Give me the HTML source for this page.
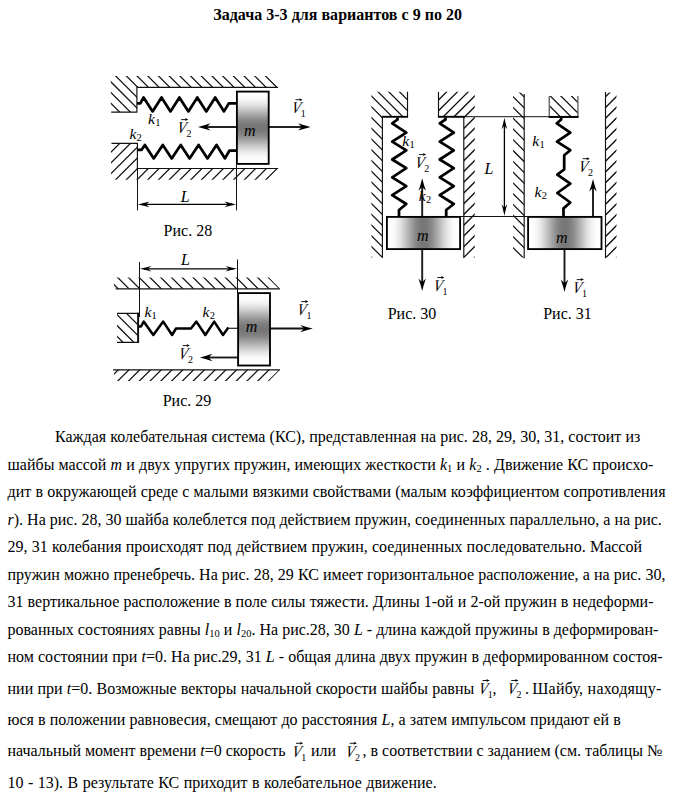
<!DOCTYPE html>
<html lang="ru"><head><meta charset="utf-8"><title>Задача 3-3</title>
<style>
html,body{margin:0;padding:0;background:#fff;}
body{width:676px;height:800px;position:relative;overflow:hidden;font-family:"Liberation Serif","DejaVu Serif",serif;color:#000;}
svg{position:absolute;left:0;top:0;}
svg text{font-family:"Liberation Serif","DejaVu Serif",serif;fill:#000;}
.t{position:absolute;white-space:nowrap;font-size:16px;line-height:20px;height:20px;left:7.5px;}
.t i{font-style:italic;}
.t sub{font-size:10.5px;vertical-align:baseline;position:relative;top:2px;line-height:0;}
h1{position:absolute;margin:0;left:213.2px;white-space:nowrap;font-size:16px;line-height:20px;font-weight:bold;top:5px;letter-spacing:0.02px;}
</style></head><body>
<h1>Задача 3-3 для вариантов с 9 по 20</h1>
<svg width="676" height="800" viewBox="0 0 676 800">
<defs>
<linearGradient id="gv" x1="0" y1="0" x2="0" y2="1"><stop offset="0.0" stop-color="#ffffff"/><stop offset="0.0417" stop-color="#fefefe"/><stop offset="0.0833" stop-color="#fbfbfb"/><stop offset="0.125" stop-color="#f4f4f4"/><stop offset="0.1667" stop-color="#e8e8e8"/><stop offset="0.2083" stop-color="#d9d9d9"/><stop offset="0.25" stop-color="#c7c7c7"/><stop offset="0.2917" stop-color="#b4b4b4"/><stop offset="0.3333" stop-color="#a1a1a1"/><stop offset="0.375" stop-color="#8f8f8f"/><stop offset="0.4167" stop-color="#828282"/><stop offset="0.4583" stop-color="#797979"/><stop offset="0.5" stop-color="#767676"/><stop offset="0.5417" stop-color="#797979"/><stop offset="0.5833" stop-color="#828282"/><stop offset="0.625" stop-color="#8f8f8f"/><stop offset="0.6667" stop-color="#a1a1a1"/><stop offset="0.7083" stop-color="#b4b4b4"/><stop offset="0.75" stop-color="#c7c7c7"/><stop offset="0.7917" stop-color="#d9d9d9"/><stop offset="0.8333" stop-color="#e8e8e8"/><stop offset="0.875" stop-color="#f4f4f4"/><stop offset="0.9167" stop-color="#fbfbfb"/><stop offset="0.9583" stop-color="#fefefe"/><stop offset="1.0" stop-color="#ffffff"/></linearGradient>
<linearGradient id="gh" x1="0" y1="0" x2="1" y2="0"><stop offset="0.0" stop-color="#ffffff"/><stop offset="0.0417" stop-color="#fefefe"/><stop offset="0.0833" stop-color="#fbfbfb"/><stop offset="0.125" stop-color="#f4f4f4"/><stop offset="0.1667" stop-color="#e8e8e8"/><stop offset="0.2083" stop-color="#d9d9d9"/><stop offset="0.25" stop-color="#c7c7c7"/><stop offset="0.2917" stop-color="#b4b4b4"/><stop offset="0.3333" stop-color="#a1a1a1"/><stop offset="0.375" stop-color="#8f8f8f"/><stop offset="0.4167" stop-color="#828282"/><stop offset="0.4583" stop-color="#797979"/><stop offset="0.5" stop-color="#767676"/><stop offset="0.5417" stop-color="#797979"/><stop offset="0.5833" stop-color="#828282"/><stop offset="0.625" stop-color="#8f8f8f"/><stop offset="0.6667" stop-color="#a1a1a1"/><stop offset="0.7083" stop-color="#b4b4b4"/><stop offset="0.75" stop-color="#c7c7c7"/><stop offset="0.7917" stop-color="#d9d9d9"/><stop offset="0.8333" stop-color="#e8e8e8"/><stop offset="0.875" stop-color="#f4f4f4"/><stop offset="0.9167" stop-color="#fbfbfb"/><stop offset="0.9583" stop-color="#fefefe"/><stop offset="1.0" stop-color="#ffffff"/></linearGradient>
</defs>
<clipPath id="c28a"><polygon points="110.80,76.10 267.20,76.10 278.20,87.40 137.00,87.40 137.00,112.10 110.80,112.10"/></clipPath>
<g clip-path="url(#c28a)" stroke="#111" stroke-width="1.25" fill="none">
<path d="M58.20,72.00L102.20,116.00M68.90,72.00L112.90,116.00M79.60,72.00L123.60,116.00M90.30,72.00L134.30,116.00M101.00,72.00L145.00,116.00M111.70,72.00L155.70,116.00M122.40,72.00L166.40,116.00M133.10,72.00L177.10,116.00M143.80,72.00L187.80,116.00M154.50,72.00L198.50,116.00M165.20,72.00L209.20,116.00M175.90,72.00L219.90,116.00M186.60,72.00L230.60,116.00M197.30,72.00L241.30,116.00M208.00,72.00L252.00,116.00M218.70,72.00L262.70,116.00M229.40,72.00L273.40,116.00M240.10,72.00L284.10,116.00M250.80,72.00L294.80,116.00M261.50,72.00L305.50,116.00M272.20,72.00L316.20,116.00M282.90,72.00L326.90,116.00"/>
</g>
<path d="M278,87.4H136.9V112.1H111.2" stroke="#111" stroke-width="1.15" fill="none"/>
<clipPath id="c28b"><polygon points="111.00,143.30 137.00,143.30 137.00,168.50 278.20,168.50 267.20,179.70 111.00,179.70"/></clipPath>
<g clip-path="url(#c28b)" stroke="#111" stroke-width="1.25" fill="none">
<path d="M102.62,139.00L57.62,184.00M113.36,139.00L68.36,184.00M124.10,139.00L79.10,184.00M134.84,139.00L89.84,184.00M145.58,139.00L100.58,184.00M156.32,139.00L111.32,184.00M167.06,139.00L122.06,184.00M177.80,139.00L132.80,184.00M188.54,139.00L143.54,184.00M199.28,139.00L154.28,184.00M210.02,139.00L165.02,184.00M220.76,139.00L175.76,184.00M231.50,139.00L186.50,184.00M242.24,139.00L197.24,184.00M252.98,139.00L207.98,184.00M263.72,139.00L218.72,184.00M274.46,139.00L229.46,184.00M285.20,139.00L240.20,184.00M295.94,139.00L250.94,184.00M306.68,139.00L261.68,184.00M317.42,139.00L272.42,184.00M328.16,139.00L283.16,184.00"/>
</g>
<path d="M111.5,143.3H137.4V168.5H278.1" stroke="#111" stroke-width="1.15" fill="none"/>
<path d="M137.5,168.5V210.4M236.5,165V210.4" stroke="#111" stroke-width="1" fill="none"/>
<path d="M142,204.4H232" stroke="#000" stroke-width="1.3" fill="none"/>
<path fill="#000" d="M138.00,204.40Q143.75,203.28 149.50,201.60L146.05,204.40L149.50,207.20Q143.75,205.52 138.00,204.40Z"/>
<path fill="#000" d="M236.00,204.40Q230.25,205.52 224.50,207.20L227.95,204.40L224.50,201.60Q230.25,203.28 236.00,204.40Z"/>
<path d="M205,126.9H304" stroke="#222" stroke-width="2" fill="none"/>
<path fill="#000" d="M198.00,126.90Q204.25,125.42 210.50,123.20L206.75,126.90L210.50,130.60Q204.25,128.38 198.00,126.90Z"/>
<path fill="#000" d="M310.60,126.90Q304.35,128.38 298.10,130.60L301.85,126.90L298.10,123.20Q304.35,125.42 310.60,126.90Z"/>
<path d="M137.00,103.40L140.30,103.40L143.60,97.40L152.60,111.40L161.50,97.40L170.50,111.40L179.40,97.40L188.40,111.40L197.30,97.40L206.30,111.40L215.20,97.40L224.00,111.40L228.80,103.40L237.00,103.40" stroke="#000" stroke-width="2.75" fill="none" stroke-linejoin="round"/>
<path d="M137.00,149.80L141.60,149.80L144.90,144.90L153.70,158.40L162.80,144.90L171.70,158.40L180.70,144.90L189.60,158.40L198.60,144.90L207.50,158.40L216.50,144.90L225.00,158.40L229.50,150.50L237.00,150.50" stroke="#000" stroke-width="2.75" fill="none" stroke-linejoin="round"/>
<rect x="236.9" y="91.6" width="31.8" height="72.3" fill="url(#gv)" stroke="#000" stroke-width="1.85"/>
<clipPath id="c29a"><polygon points="113.90,277.50 269.00,277.50 280.00,288.80 113.90,288.80"/></clipPath>
<g clip-path="url(#c29a)" stroke="#111" stroke-width="1.25" fill="none">
<path d="M91.66,273.00L110.66,292.00M102.43,273.00L121.43,292.00M113.20,273.00L132.20,292.00M123.97,273.00L142.97,292.00M134.74,273.00L153.74,292.00M145.51,273.00L164.51,292.00M156.28,273.00L175.28,292.00M167.05,273.00L186.05,292.00M177.82,273.00L196.82,292.00M188.59,273.00L207.59,292.00M199.36,273.00L218.36,292.00M210.13,273.00L229.13,292.00M220.90,273.00L239.90,292.00M231.67,273.00L250.67,292.00M242.44,273.00L261.44,292.00M253.21,273.00L272.21,292.00M263.98,273.00L282.98,292.00M274.75,273.00L293.75,292.00M285.52,273.00L304.52,292.00"/>
</g>
<path d="M115.7,288.8H279.8" stroke="#111" stroke-width="1.15" fill="none"/>
<clipPath id="c29b"><polygon points="113.90,369.80 280.00,369.80 269.00,381.10 113.90,381.10"/></clipPath>
<g clip-path="url(#c29b)" stroke="#111" stroke-width="1.25" fill="none">
<path d="M111.26,366.00L91.26,386.00M122.03,366.00L102.03,386.00M132.80,366.00L112.80,386.00M143.57,366.00L123.57,386.00M154.34,366.00L134.34,386.00M165.11,366.00L145.11,386.00M175.88,366.00L155.88,386.00M186.65,366.00L166.65,386.00M197.42,366.00L177.42,386.00M208.19,366.00L188.19,386.00M218.96,366.00L198.96,386.00M229.73,366.00L209.73,386.00M240.50,366.00L220.50,386.00M251.27,366.00L231.27,386.00M262.04,366.00L242.04,386.00M272.81,366.00L252.81,386.00M283.58,366.00L263.58,386.00M294.35,366.00L274.35,386.00M305.12,366.00L285.12,386.00"/>
</g>
<path d="M113,369.8H279.9" stroke="#111" stroke-width="1.15" fill="none"/>
<clipPath id="c29c"><polygon points="117.10,313.30 138.70,313.30 138.70,342.40 117.10,342.40"/></clipPath>
<g clip-path="url(#c29c)" stroke="#111" stroke-width="1.25" fill="none">
<path d="M78.90,309.00L116.90,347.00M89.70,309.00L127.70,347.00M100.50,309.00L138.50,347.00M111.30,309.00L149.30,347.00M122.10,309.00L160.10,347.00M132.90,309.00L170.90,347.00M143.70,309.00L181.70,347.00"/>
</g>
<path d="M117.1,313.3H138.7M117.1,342.4H138.7" stroke="#111" stroke-width="1.15" fill="none"/>
<path d="M138.1,312.7V343" stroke="#111" stroke-width="2" fill="none"/>
<path d="M139.5,262V317M237.5,259.5V293" stroke="#111" stroke-width="1" fill="none"/>
<path d="M144,268.8H233" stroke="#000" stroke-width="1.3" fill="none"/>
<path fill="#000" d="M139.90,268.80Q145.65,267.68 151.40,266.00L147.95,268.80L151.40,271.60Q145.65,269.92 139.90,268.80Z"/>
<path fill="#000" d="M237.10,268.80Q231.35,269.92 225.60,271.60L229.05,268.80L225.60,266.00Q231.35,267.68 237.10,268.80Z"/>
<path d="M139.00,326.50L141.00,326.50L143.70,321.60L153.30,335.00L163.20,321.60L172.10,335.00L176.00,328.50L191.00,328.50L196.40,321.60L205.30,335.00L214.20,321.60L223.00,335.00L228.40,327.60" stroke="#000" stroke-width="2.5" fill="none" stroke-linejoin="round"/>
<path d="M228,328.3H238" stroke="#222" stroke-width="1.2" fill="none"/>
<path d="M270,328.6H306" stroke="#111" stroke-width="2" fill="none"/>
<path fill="#000" d="M312.80,328.60Q306.55,330.08 300.30,332.30L304.05,328.60L300.30,324.90Q306.55,327.12 312.80,328.60Z"/>
<path d="M238,357.5H207" stroke="#1a1a1a" stroke-width="1.9" fill="none"/>
<path fill="#000" d="M199.90,357.50Q206.15,356.02 212.40,353.80L208.65,357.50L212.40,361.20Q206.15,358.98 199.90,357.50Z"/>
<rect x="238.1" y="293.1" width="31.9" height="72.4" fill="url(#gv)" stroke="#000" stroke-width="1.85"/>
<clipPath id="c30a"><polygon points="371.40,91.70 407.50,91.70 407.50,116.80 382.40,116.80 382.40,257.50 371.40,257.50"/></clipPath>
<g clip-path="url(#c30a)" stroke="#111" stroke-width="1.25" fill="none">
<path d="M190.45,87.00L365.45,262.00M201.20,87.00L376.20,262.00M211.95,87.00L386.95,262.00M222.70,87.00L397.70,262.00M233.45,87.00L408.45,262.00M244.20,87.00L419.20,262.00M254.95,87.00L429.95,262.00M265.70,87.00L440.70,262.00M276.45,87.00L451.45,262.00M287.20,87.00L462.20,262.00M297.95,87.00L472.95,262.00M308.70,87.00L483.70,262.00M319.45,87.00L494.45,262.00M330.20,87.00L505.20,262.00M340.95,87.00L515.95,262.00M351.70,87.00L526.70,262.00M362.45,87.00L537.45,262.00M373.20,87.00L548.20,262.00M383.95,87.00L558.95,262.00M394.70,87.00L569.70,262.00M405.45,87.00L580.45,262.00M416.20,87.00L591.20,262.00"/>
</g>
<path d="M407.5,91.7V116.8M382.4,116.8V258.1" stroke="#111" stroke-width="1.15" fill="none"/>
<path d="M381.8,116.8H408.1" stroke="#000" stroke-width="1.9" fill="none"/>
<clipPath id="c30b"><polygon points="438.50,91.70 474.80,91.70 474.80,257.50 463.80,257.50 463.80,116.80 438.50,116.80"/></clipPath>
<g clip-path="url(#c30b)" stroke="#111" stroke-width="1.25" fill="none">
<path d="M430.00,87.00L255.00,262.00M440.75,87.00L265.75,262.00M451.50,87.00L276.50,262.00M462.25,87.00L287.25,262.00M473.00,87.00L298.00,262.00M483.75,87.00L308.75,262.00M494.50,87.00L319.50,262.00M505.25,87.00L330.25,262.00M516.00,87.00L341.00,262.00M526.75,87.00L351.75,262.00M537.50,87.00L362.50,262.00M548.25,87.00L373.25,262.00M559.00,87.00L384.00,262.00M569.75,87.00L394.75,262.00M580.50,87.00L405.50,262.00M591.25,87.00L416.25,262.00M602.00,87.00L427.00,262.00M612.75,87.00L437.75,262.00M623.50,87.00L448.50,262.00M634.25,87.00L459.25,262.00M645.00,87.00L470.00,262.00M655.75,87.00L480.75,262.00"/>
</g>
<path d="M438.5,91.7V116.8M463.8,116.8V258.1" stroke="#111" stroke-width="1.15" fill="none"/>
<path d="M437.9,116.8H464.4" stroke="#000" stroke-width="1.9" fill="none"/>
<clipPath id="c31a"><polygon points="513.10,92.60 524.20,92.60 524.20,257.60 513.10,257.60"/></clipPath>
<g clip-path="url(#c31a)" stroke="#111" stroke-width="1.25" fill="none">
<path d="M331.92,88.00L505.92,262.00M342.70,88.00L516.70,262.00M353.48,88.00L527.48,262.00M364.26,88.00L538.26,262.00M375.04,88.00L549.04,262.00M385.82,88.00L559.82,262.00M396.60,88.00L570.60,262.00M407.38,88.00L581.38,262.00M418.16,88.00L592.16,262.00M428.94,88.00L602.94,262.00M439.72,88.00L613.72,262.00M450.50,88.00L624.50,262.00M461.28,88.00L635.28,262.00M472.06,88.00L646.06,262.00M482.84,88.00L656.84,262.00M493.62,88.00L667.62,262.00M504.40,88.00L678.40,262.00M515.18,88.00L689.18,262.00M525.96,88.00L699.96,262.00"/>
</g>
<path d="M524.2,94V258.3" stroke="#111" stroke-width="1.15" fill="none"/>
<clipPath id="c31b"><polygon points="605.50,92.60 616.50,92.60 616.50,257.60 605.50,257.60"/></clipPath>
<g clip-path="url(#c31b)" stroke="#111" stroke-width="1.25" fill="none">
<path d="M603.50,88.00L429.50,262.00M614.25,88.00L440.25,262.00M625.00,88.00L451.00,262.00M635.75,88.00L461.75,262.00M646.50,88.00L472.50,262.00M657.25,88.00L483.25,262.00M668.00,88.00L494.00,262.00M678.75,88.00L504.75,262.00M689.50,88.00L515.50,262.00M700.25,88.00L526.25,262.00M711.00,88.00L537.00,262.00M721.75,88.00L547.75,262.00M732.50,88.00L558.50,262.00M743.25,88.00L569.25,262.00M754.00,88.00L580.00,262.00M764.75,88.00L590.75,262.00M775.50,88.00L601.50,262.00M786.25,88.00L612.25,262.00M797.00,88.00L623.00,262.00"/>
</g>
<path d="M605.5,92V258.3" stroke="#111" stroke-width="1.15" fill="none"/>
<clipPath id="c31c"><polygon points="549.25,96.10 578.00,96.10 578.00,117.00 549.25,117.00"/></clipPath>
<g clip-path="url(#c31c)" stroke="#111" stroke-width="1.25" fill="none">
<path d="M514.45,92.00L543.45,121.00M525.05,92.00L554.05,121.00M535.65,92.00L564.65,121.00M546.25,92.00L575.25,121.00M556.85,92.00L585.85,121.00M567.45,92.00L596.45,121.00M578.05,92.00L607.05,121.00"/>
</g>
<path d="M549.25,96.1V117M577.9,96.1V117" stroke="#666" stroke-width="1.4" fill="none"/>
<path d="M548.6,116.95H578.6" stroke="#000" stroke-width="2" fill="none"/>
<path d="M464,116.7H549.4M460.8,216.5H527.3" stroke="#111" stroke-width="1" fill="none"/>
<path d="M504.4,122V212" stroke="#000" stroke-width="1.3" fill="none"/>
<path fill="#000" d="M504.40,117.80Q505.52,123.55 507.20,129.30L504.40,125.85L501.60,129.30Q503.28,123.55 504.40,117.80Z"/>
<path fill="#000" d="M504.40,215.80Q503.28,210.05 501.60,204.30L504.40,207.75L507.20,204.30Q505.52,210.05 504.40,215.80Z"/>
<path d="M397.50,117.50L397.50,119.50L392.20,123.30L406.30,132.70L392.20,141.70L406.30,150.30L392.20,159.50L406.30,168.20L392.20,177.30L406.30,186.10L392.20,195.20L406.30,204.00L399.00,210.00L399.00,216.50" stroke="#000" stroke-width="2.75" fill="none" stroke-linejoin="round"/>
<path d="M445.50,117.50L445.50,119.50L439.70,123.30L453.80,132.70L439.70,141.70L453.80,150.30L439.70,159.50L453.80,168.20L439.70,177.30L453.80,186.10L439.70,195.20L453.80,204.00L446.20,210.00L446.20,216.50" stroke="#000" stroke-width="2.75" fill="none" stroke-linejoin="round"/>
<path d="M561.20,117.50L561.20,119.50L556.80,123.30L570.30,132.70L557.00,141.70L570.30,150.20L564.20,155.20L564.20,169.50L557.30,174.70L570.30,183.70L557.30,193.00L570.30,202.50L563.50,208.40L563.50,216.70" stroke="#000" stroke-width="2.75" fill="none" stroke-linejoin="round"/>
<rect x="386.9" y="216.9" width="73.2" height="32.2" fill="url(#gh)" stroke="#000" stroke-width="1.85"/>
<rect x="528.1" y="216.9" width="73.4" height="32.2" fill="url(#gh)" stroke="#000" stroke-width="1.85"/>
<path d="M422.2,186V216M422.2,250V284" stroke="#1a1a1a" stroke-width="1.9" fill="none"/>
<path fill="#000" d="M422.20,178.20Q423.68,184.45 425.90,190.70L422.20,186.95L418.50,190.70Q420.72,184.45 422.20,178.20Z"/>
<path fill="#000" d="M422.20,291.00Q420.72,284.75 418.50,278.50L422.20,282.25L425.90,278.50Q423.68,284.75 422.20,291.00Z"/>
<path d="M593,187V216M564.5,250V285" stroke="#1a1a1a" stroke-width="1.9" fill="none"/>
<path fill="#000" d="M593.00,179.00Q594.48,185.25 596.70,191.50L593.00,187.75L589.30,191.50Q591.52,185.25 593.00,179.00Z"/>
<path fill="#000" d="M564.50,291.90Q563.02,285.65 560.80,279.40L564.50,283.15L568.20,279.40Q565.98,285.65 564.50,291.90Z"/>
<text x="148.10" y="123.8" font-size="15.6" font-style="italic">k<tspan font-size="10.5" font-style="normal" dy="2" dx="0.3">1</tspan></text>
<text x="129.40" y="138.8" font-size="15.6" font-style="italic">k<tspan font-size="10.5" font-style="normal" dy="2" dx="0.3">2</tspan></text>
<text transform="translate(176.55,133.00) skewX(-11)" font-size="16.5" font-style="italic" textLength="8.8" lengthAdjust="spacingAndGlyphs">V</text>
<text x="186.45" y="137.20" font-size="10">2</text>
<path d="M181.15,119.60H186.85" stroke="#000" stroke-width="0.9" fill="none"/>
<path d="M188.35,119.60l-3.4,-1.5l0.9,1.5l-0.9,1.5z" fill="#000"/>
<text transform="translate(290.90,113.10) skewX(-11)" font-size="16.5" font-style="italic" textLength="8.8" lengthAdjust="spacingAndGlyphs">V</text>
<text x="300.80" y="117.30" font-size="10">1</text>
<path d="M295.50,99.70H301.20" stroke="#000" stroke-width="0.9" fill="none"/>
<path d="M302.70,99.70l-3.4,-1.5l0.9,1.5l-0.9,1.5z" fill="#000"/>
<text x="244" y="135.5" font-size="16" font-style="italic" text-anchor="start">m</text>
<text x="180.7" y="201.7" font-size="16" font-style="italic" text-anchor="start">L</text>
<text x="144.40" y="316.6" font-size="15.6" font-style="italic">k<tspan font-size="10.5" font-style="normal" dy="2" dx="0.3">1</tspan></text>
<text x="202.60" y="316.6" font-size="15.6" font-style="italic">k<tspan font-size="10.5" font-style="normal" dy="2" dx="0.3">2</tspan></text>
<text transform="translate(296.60,315.00) skewX(-11)" font-size="16.5" font-style="italic" textLength="8.8" lengthAdjust="spacingAndGlyphs">V</text>
<text x="306.50" y="319.20" font-size="10">1</text>
<path d="M301.20,301.60H306.90" stroke="#000" stroke-width="0.9" fill="none"/>
<path d="M308.40,301.60l-3.4,-1.5l0.9,1.5l-0.9,1.5z" fill="#000"/>
<text transform="translate(178.10,359.00) skewX(-11)" font-size="16.5" font-style="italic" textLength="8.8" lengthAdjust="spacingAndGlyphs">V</text>
<text x="188.00" y="363.20" font-size="10">2</text>
<path d="M182.70,345.60H188.40" stroke="#000" stroke-width="0.9" fill="none"/>
<path d="M189.90,345.60l-3.4,-1.5l0.9,1.5l-0.9,1.5z" fill="#000"/>
<text x="245.8" y="332.0" font-size="16" font-style="italic" text-anchor="start">m</text>
<text x="181" y="264.8" font-size="16" font-style="italic" text-anchor="start">L</text>
<text x="402.30" y="146.2" font-size="15.6" font-style="italic">k<tspan font-size="10.5" font-style="normal" dy="2" dx="0.3">1</tspan></text>
<text x="418.80" y="201" font-size="15.6" font-style="italic">k<tspan font-size="10.5" font-style="normal" dy="2" dx="0.3">2</tspan></text>
<text transform="translate(414.40,168.00) skewX(-11)" font-size="16.5" font-style="italic" textLength="8.8" lengthAdjust="spacingAndGlyphs">V</text>
<text x="424.30" y="172.20" font-size="10">2</text>
<path d="M419.00,154.60H424.70" stroke="#000" stroke-width="0.9" fill="none"/>
<path d="M426.20,154.60l-3.4,-1.5l0.9,1.5l-0.9,1.5z" fill="#000"/>
<text transform="translate(432.70,290.90) skewX(-11)" font-size="16.5" font-style="italic" textLength="8.8" lengthAdjust="spacingAndGlyphs">V</text>
<text x="442.60" y="295.10" font-size="10">1</text>
<path d="M437.30,277.50H443.00" stroke="#000" stroke-width="0.9" fill="none"/>
<path d="M444.50,277.50l-3.4,-1.5l0.9,1.5l-0.9,1.5z" fill="#000"/>
<text x="417" y="240.8" font-size="16" font-style="italic" text-anchor="start">m</text>
<text x="484.5" y="173.6" font-size="16" font-style="italic" text-anchor="start">L</text>
<text x="532.30" y="145.8" font-size="15.6" font-style="italic">k<tspan font-size="10.5" font-style="normal" dy="2" dx="0.3">1</tspan></text>
<text x="534.60" y="196.5" font-size="15.6" font-style="italic">k<tspan font-size="10.5" font-style="normal" dy="2" dx="0.3">2</tspan></text>
<text transform="translate(578.00,172.10) skewX(-11)" font-size="16.5" font-style="italic" textLength="8.8" lengthAdjust="spacingAndGlyphs">V</text>
<text x="587.90" y="176.30" font-size="10">2</text>
<path d="M582.60,158.70H588.30" stroke="#000" stroke-width="0.9" fill="none"/>
<path d="M589.80,158.70l-3.4,-1.5l0.9,1.5l-0.9,1.5z" fill="#000"/>
<text transform="translate(572.10,293.00) skewX(-11)" font-size="16.5" font-style="italic" textLength="8.8" lengthAdjust="spacingAndGlyphs">V</text>
<text x="582.00" y="297.20" font-size="10">1</text>
<path d="M576.70,279.60H582.40" stroke="#000" stroke-width="0.9" fill="none"/>
<path d="M583.90,279.60l-3.4,-1.5l0.9,1.5l-0.9,1.5z" fill="#000"/>
<text x="555.9" y="242.5" font-size="16" font-style="italic" text-anchor="start">m</text>
<text x="163.6" y="235.6" font-size="16" font-style="normal" text-anchor="start">Рис. 28</text>
<text x="162.7" y="405.5" font-size="16" font-style="normal" text-anchor="start">Рис. 29</text>
<text x="387.7" y="319" font-size="16" font-style="normal" text-anchor="start">Рис. 30</text>
<text x="543.2" y="319" font-size="16" font-style="normal" text-anchor="start">Рис. 31</text>
<text transform="translate(477.90,693.90) skewX(-11)" font-size="16.5" font-style="italic" textLength="8.8" lengthAdjust="spacingAndGlyphs">V</text>
<text x="487.80" y="698.10" font-size="10">1</text>
<path d="M482.50,680.50H488.20" stroke="#000" stroke-width="0.9" fill="none"/>
<path d="M489.70,680.50l-3.4,-1.5l0.9,1.5l-0.9,1.5z" fill="#000"/>
<text transform="translate(506.70,693.90) skewX(-11)" font-size="16.5" font-style="italic" textLength="8.8" lengthAdjust="spacingAndGlyphs">V</text>
<text x="516.60" y="698.10" font-size="10">2</text>
<path d="M511.30,680.50H517.00" stroke="#000" stroke-width="0.9" fill="none"/>
<path d="M518.50,680.50l-3.4,-1.5l0.9,1.5l-0.9,1.5z" fill="#000"/>
<text transform="translate(291.40,756.70) skewX(-11)" font-size="16.5" font-style="italic" textLength="8.8" lengthAdjust="spacingAndGlyphs">V</text>
<text x="301.30" y="760.90" font-size="10">1</text>
<path d="M296.00,743.30H301.70" stroke="#000" stroke-width="0.9" fill="none"/>
<path d="M303.20,743.30l-3.4,-1.5l0.9,1.5l-0.9,1.5z" fill="#000"/>
<text transform="translate(345.10,756.70) skewX(-11)" font-size="16.5" font-style="italic" textLength="8.8" lengthAdjust="spacingAndGlyphs">V</text>
<text x="355.00" y="760.90" font-size="10">2</text>
<path d="M349.70,743.30H355.40" stroke="#000" stroke-width="0.9" fill="none"/>
<path d="M356.90,743.30l-3.4,-1.5l0.9,1.5l-0.9,1.5z" fill="#000"/>
</svg>
<div class="t" id="l1" style="left:55px;top:427.1px;word-spacing:0.107px">Каждая колебательная система (КС), представленная на рис. 28, 29, 30, 31, состоит из</div>
<div class="t" id="l2" style="left:7.5px;top:454.6px;word-spacing:0.174px">шайбы массой <i>m</i> и двух упругих пружин, имеющих жесткости <i>k</i><sub>1</sub> и <i>k</i><sub>2</sub> . Движение КС происхо-</div>
<div class="t" id="l3" style="left:7.5px;top:482.1px;word-spacing:0.202px">дит в окружающей среде с малыми вязкими свойствами (малым коэффициентом сопротивления</div>
<div class="t" id="l4" style="left:7.5px;top:509.6px;word-spacing:0.028px"><i>r</i>). На рис. 28, 30 шайба колеблется под действием пружин, соединенных параллельно, а на рис.</div>
<div class="t" id="l5" style="left:7.5px;top:537.1px;word-spacing:0.236px">29, 31 колебания происходят под действием пружин, соединенных последовательно. Массой</div>
<div class="t" id="l6" style="left:7.5px;top:564.6px;word-spacing:0.132px">пружин можно пренебречь. На рис. 28, 29 КС имеет горизонтальное расположение, а на рис. 30,</div>
<div class="t" id="l7" style="left:7.5px;top:592.1px;word-spacing:0.101px">31 вертикальное расположение в поле силы тяжести. Длины 1-ой и 2-ой пружин в недеформи-</div>
<div class="t" id="l8" style="left:7.5px;top:619.6px;word-spacing:0.040px">рованных состояниях равны <i>l</i><sub>10</sub> и <i>l</i><sub>20</sub>. На рис.28, 30 <i>L</i> - длина каждой пружины в деформирован-</div>
<div class="t" id="l9" style="left:7.5px;top:647.1px;word-spacing:0.115px">ном состоянии при <i>t</i>=0. На рис.29, 31 <i>L</i> - общая длина двух пружин в деформированном состоя-</div>
<div class="t" id="l10a" style="left:7.5px;top:678.6px;word-spacing:0.263px">нии при <i>t</i>=0. Возможные векторы начальной скорости шайбы равны</div>
<div class="t" id="l10b" style="left:492.6px;top:678.6px">,</div>
<div class="t" id="l10c" style="left:525.0px;top:678.6px">.</div>
<div class="t" id="l10d" style="left:532.2px;top:678.6px;letter-spacing:0.239px">Шайбу, находящу-</div>
<div class="t" id="l11" style="left:7.5px;top:709.9px;word-spacing:0.145px">юся в положении равновесия, смещают до расстояния <i>L</i>, а затем импульсом придают ей в</div>
<div class="t" id="l12a" style="left:7.5px;top:741.2px;word-spacing:-0.077px">начальный момент времени <i>t</i>=0 скорость</div>
<div class="t" id="l12b" style="left:311.0px;top:741.2px">или</div>
<div class="t" id="l12c" style="left:362.5px;top:741.2px">,</div>
<div class="t" id="l12d" style="left:370.5px;top:741.2px;word-spacing:-0.016px">в соответствии с заданием (см. таблицы №</div>
<div class="t" id="l13" style="left:7.5px;top:772.7px;word-spacing:0.453px">10 - 13). В результате КС приходит в колебательное движение.</div>
</body></html>
